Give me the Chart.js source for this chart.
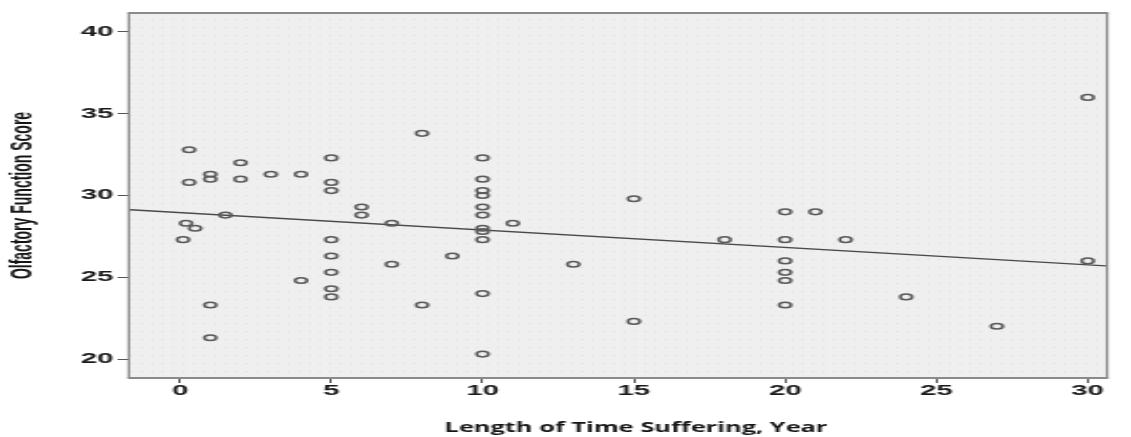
<!DOCTYPE html>
<html>
<head>
<meta charset="utf-8">
<script src="https://cdn.jsdelivr.net/npm/chart.js@4.4.0/dist/chart.umd.min.js"></script>
<style>
  html, body { margin: 0; padding: 0; background: #fff; overflow: hidden; }
  /* the source figure is stretched sideways, so the chart is drawn narrow and widened */
  #wrap { position: absolute; left: 0; top: 0; width: 539px; height: 437px;
          transform: scaleX(2.0983); transform-origin: 0 0; }
</style>
</head>
<body>
<div id="wrap"><canvas id="scatter" width="539" height="437"></canvas></div>
<script>
const STRETCH = 1131 / 539;

// length of time suffering (years) and olfactory function score, one entry per subject
const years = [
  0.3, 0.3, 0.2, 0.5, 0.1, 1, 1, 1, 1, 1.5,
  2, 2, 3, 4, 4,
  5, 5, 5, 5, 5, 5, 5, 5,
  6, 6, 7, 7, 8, 8, 9,
  10, 10, 10, 10, 10, 10, 10, 10, 10, 10, 10,
  11, 13, 15, 15, 18,
  20, 20, 20, 20, 20, 20,
  21, 22, 24, 27, 30, 30
];
const scores = [
  32.8, 30.8, 28.3, 28.0, 27.3, 31.3, 31.0, 23.3, 21.3, 28.8,
  32.0, 31.0, 31.3, 31.3, 24.8,
  32.3, 30.8, 30.3, 27.3, 26.3, 25.3, 24.3, 23.8,
  29.3, 28.8, 28.3, 25.8, 33.8, 23.3, 26.3,
  32.3, 31.0, 30.3, 30.0, 29.3, 28.8, 28.0, 27.8, 27.3, 24.0, 20.3,
  28.3, 25.8, 29.8, 22.3, 27.3,
  29.0, 27.3, 26.0, 25.3, 24.8, 23.3,
  29.0, 27.3, 23.8, 22.0, 36.0, 26.0
];

// fitted line, read at the left and right edges of the plot
const fitX = [-1.65, 30.6];
const fitY = [29.13, 25.70];

const xTicks = [0, 5, 10, 15, 20, 25, 30];
const yTicks = [20, 25, 30, 35, 40];
const xTitle = 'Length of Time Suffering, Year';
const yTitle = 'Olfactory Function Score';

const tickFont = { family: 'Liberation Sans', size: 14, weight: 'bold' };

// dotted grey backdrop + frame of the plot area
const plotFrame = {
  id: 'plotFrame',
  beforeDraw(chart) {
    const { ctx, chartArea: a } = chart;
    ctx.save();
    ctx.fillStyle = '#efefef';
    ctx.fillRect(a.left, a.top, a.right - a.left, a.bottom - a.top);
    const tile = document.createElement('canvas');
    tile.width = 5; tile.height = 8;
    const tc = tile.getContext('2d');
    tc.fillStyle = '#e0e0e0';
    tc.fillRect(2, 3, 1, 1);
    ctx.fillStyle = ctx.createPattern(tile, 'repeat');
    ctx.fillRect(a.left, a.top, a.right - a.left, a.bottom - a.top);
    ctx.restore();
  },
  afterDraw(chart) {
    const { ctx, chartArea: a } = chart;
    ctx.save();
    ctx.fillStyle = '#8a8a8a';
    ctx.fillRect(a.left - 1.2, a.top - 1, 1.2, a.bottom - a.top + 2);
    ctx.fillRect(a.right, a.top - 1, 1.2, a.bottom - a.top + 2);
    ctx.fillRect(a.left - 1.2, a.top - 2, a.right - a.left + 2.4, 2);
    ctx.fillRect(a.left - 1.2, a.bottom, a.right - a.left + 2.4, 2);

    // x title is not widened like the rest of the figure
    ctx.font = 'bold 14.5px "Open Sans"';
    ctx.fillStyle = '#151515';
    ctx.textAlign = 'center';
    ctx.textBaseline = 'alphabetic';
    const w = ctx.measureText(xTitle).width;
    const sx = (383 / STRETCH) / w;
    ctx.translate(636 / STRETCH, 432);
    ctx.scale(sx, 1);
    ctx.fillText(xTitle, 0, 0);
    ctx.restore();
  }
};

const ctx = document.getElementById('scatter').getContext('2d');

const scatterChart = new Chart(ctx, {
  type: 'scatter',
  data: {
    datasets: [
      {
        label: 'Subjects',
        data: years.map((x, i) => ({ x: x, y: scores[i] })),
        pointStyle: 'circle',
        pointRadius: 2.8,
        borderWidth: 1.5,
        borderColor: '#5a5a5a',
        backgroundColor: 'rgba(0,0,0,0)',
        order: 1
      },
      {
        type: 'line',
        label: 'Fit',
        data: fitX.map((x, i) => ({ x: x, y: fitY[i] })),
        borderColor: '#4a4a4a',
        borderWidth: 1.3,
        pointRadius: 0,
        fill: false,
        order: 2
      }
    ]
  },
  options: {
    responsive: false,
    animation: false,
    events: [],
    layout: { padding: { top: 14, right: 12, left: 0, bottom: 0 } },
    plugins: {
      legend: { display: false },
      tooltip: { enabled: false }
    },
    scales: {
      x: {
        type: 'linear',
        min: -1.65,
        max: 30.6,
        afterBuildTicks: scale => { scale.ticks = xTicks.map(v => ({ value: v })); },
        afterFit: scale => { scale.height = 60; },
        border: { display: false },
        grid: { drawOnChartArea: false, drawTicks: true, tickLength: 6, color: '#555', lineWidth: 1 },
        ticks: { font: tickFont, color: '#1a1a1a', padding: 0, maxRotation: 0 }
      },
      y: {
        min: 18.9,
        max: 41.1,
        afterBuildTicks: scale => { scale.ticks = yTicks.map(v => ({ value: v })); },
        afterFit: scale => { scale.width = 62; },
        border: { display: false },
        grid: { drawOnChartArea: false, drawTicks: true, tickLength: 6, color: '#555', lineWidth: 1 },
        ticks: { font: tickFont, color: '#1a1a1a', padding: 2 },
        title: {
          display: true,
          text: yTitle,
          color: '#151515',
          font: { family: 'Liberation Sans', size: 14, weight: 'bold' },
          padding: { top: 3, bottom: 0 }
        }
      }
    }
  },
  plugins: [plotFrame]
});
</script>
</body>
</html>
